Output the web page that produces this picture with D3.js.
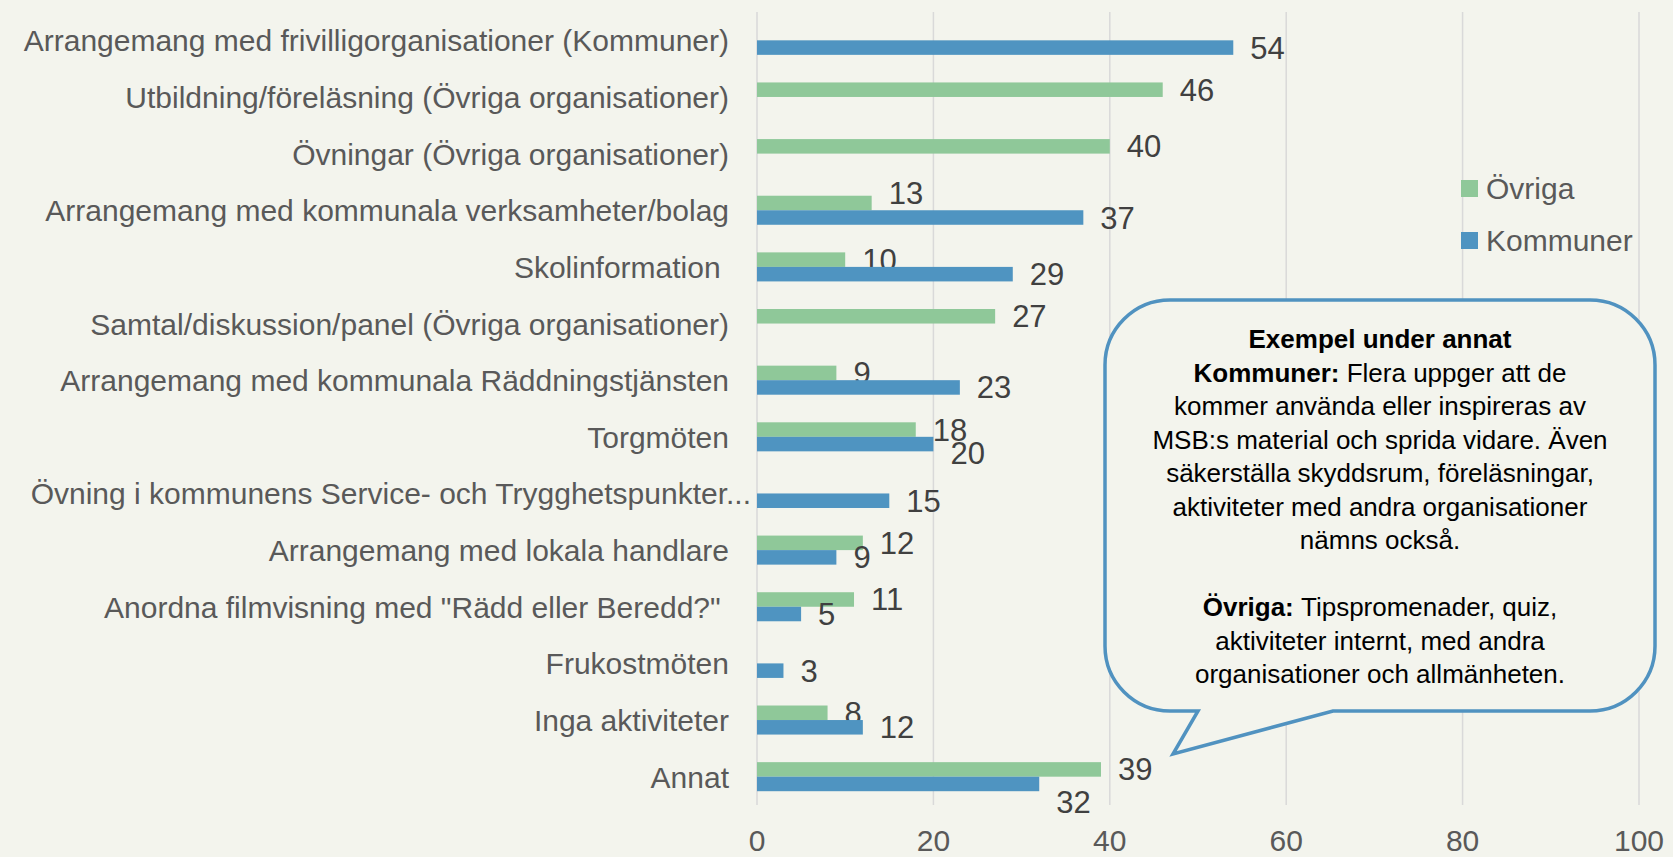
<!DOCTYPE html>
<html lang="sv">
<head>
    <meta charset="UTF-8">
    <title>Aktiviteter</title>
    <script src="https://d3js.org/d3.v7.min.js"></script>
    <style>
        html, body {
            margin: 0;
            padding: 0;
            background: #f3f4ed;
        }
        svg {
            display: block;
            background: #f3f4ed;
            font-family: "Liberation Sans", Arial, sans-serif;
        }
        .grid line {
            stroke: #d9d9d9;
            stroke-width: 1.5;
        }
        text.cat {
            fill: #595959;
            font-size: 30px;
            text-anchor: end;
            white-space: pre;
        }
        text.value {
            fill: #404040;
            font-size: 31px;
        }
        text.tick {
            fill: #595959;
            font-size: 30px;
            text-anchor: middle;
        }
        text.legend {
            fill: #595959;
            font-size: 30px;
        }
        text.note {
            fill: #000;
            font-size: 26px;
            text-anchor: middle;
        }
    </style>
</head>
<body>
<script>
    var width = 1673;
    var height = 857;

    // data
    var categories = [
        "Arrangemang med frivilligorganisationer (Kommuner)",
        "Utbildning/föreläsning (Övriga organisationer)",
        "Övningar (Övriga organisationer)",
        "Arrangemang med kommunala verksamheter/bolag",
        "Skolinformation ",
        "Samtal/diskussion/panel (Övriga organisationer)",
        "Arrangemang med kommunala Räddningstjänsten",
        "Torgmöten",
        "Övning i kommunens Service- och Trygghetspunkter...",
        "Arrangemang med lokala handlare",
        "Anordna filmvisning med \"Rädd eller Beredd?\" ",
        "Frukostmöten",
        "Inga aktiviteter",
        "Annat"
    ];
    var ovriga = [null, 46, 40, 13, 10, 27, 9, 18, null, 12, 11, null, 8, 39];
    var kommuner = [54, null, null, 37, 29, null, 23, 20, 15, 9, 5, 3, 12, 32];
    var seriesNames = ["Övriga", "Kommuner"];
    var xTicks = [0, 20, 40, 60, 80, 100];

    var noteLines = [
        [["Exempel under annat", true]],
        [["Kommuner: ", true], ["Flera uppger att de", false]],
        [["kommer använda eller inspireras av", false]],
        [["MSB:s material och sprida vidare. Även", false]],
        [["säkerställa skyddsrum, föreläsningar,", false]],
        [["aktiviteter med andra organisationer", false]],
        [["nämns också.", false]],
        [],
        [["Övriga: ", true], ["Tipspromenader, quiz,", false]],
        [["aktiviteter internt, med andra", false]],
        [["organisationer och allmänheten.", false]]
    ];

    var colors = {"Övriga": "#8fc899", "Kommuner": "#4f94c1"};

    // manual label nudges (like Excel's moved labels)
    var labelDy = {
        "Arrangemang med kommunala verksamheter/bolag|Övriga": -10,
        "Torgmöten|Kommuner": 9,
        "Annat|Kommuner": 18
    };
    var catDx = {
        "Övning i kommunens Service- och Trygghetspunkter...": 22
    };

    var rows = categories.map(function (c, i) {
        return {
            name: c,
            values: [
                {key: "Övriga", value: ovriga[i]},
                {key: "Kommuner", value: kommuner[i]}
            ]
        };
    });

    var svg = d3.select("body").append("svg")
            .attr("width", width)
            .attr("height", height);

    var xScale = d3.scaleLinear()
            .domain([0, 100])
            .range([757, 1639]);
    var yScale = d3.scaleBand()
            .domain(categories)
            .range([12, 805]);
    var subScale = d3.scaleBand()
            .domain(seriesNames)
            .range([0, yScale.bandwidth()])
            .paddingOuter(0.95);

    // gridlines
    svg.append("g").attr("class", "grid")
            .selectAll("line")
            .data(xTicks)
            .enter().append("line")
            .attr("x1", function (d) { return xScale(d); })
            .attr("x2", function (d) { return xScale(d); })
            .attr("y1", 12)
            .attr("y2", 805);

    svg.append("g")
            .selectAll("text")
            .data(xTicks)
            .enter().append("text")
            .attr("class", "tick")
            .attr("x", function (d) { return xScale(d); })
            .attr("y", 851)
            .text(function (d) { return d; });

    // category labels
    svg.append("g")
            .selectAll("text")
            .data(categories)
            .enter().append("text")
            .attr("class", "cat")
            .attr("x", function (d) { return 729 + (catDx[d] || 0); })
            .attr("y", function (d) { return yScale(d) + yScale.bandwidth() / 2 + 11; })
            .text(function (d) { return d; });

    var groups = svg.selectAll(".row")
            .data(rows)
            .enter().append("g")
            .attr("class", "row")
            .attr("transform", function (d) { return "translate(0," + yScale(d.name) + ")"; });

    var items = groups.selectAll(".item")
            .data(function (d) {
                return d.values.filter(function (v) { return v.value != null; })
                        .map(function (v) { return {cat: d.name, key: v.key, value: v.value}; });
            })
            .enter().append("g")
            .attr("class", "item");

    items.append("rect")
            .attr("x", xScale(0))
            .attr("y", function (d) { return subScale(d.key); })
            .attr("width", function (d) { return xScale(d.value) - xScale(0); })
            .attr("height", subScale.bandwidth())
            .attr("fill", function (d) { return colors[d.key]; });

    items.append("text")
            .attr("class", "value")
            .attr("x", function (d) { return xScale(d.value) + 17; })
            .attr("y", function (d) {
                return subScale(d.key) + subScale.bandwidth() / 2 + 11 + (labelDy[d.cat + "|" + d.key] || 0);
            })
            .text(function (d) { return d.value; });

    // legend
    var legend = svg.append("g")
            .selectAll("g")
            .data(seriesNames)
            .enter().append("g")
            .attr("transform", function (d, i) { return "translate(1461," + (180 + i * 52) + ")"; });
    legend.append("rect")
            .attr("width", 17)
            .attr("height", 17)
            .attr("fill", function (d) { return colors[d]; });
    legend.append("text")
            .attr("class", "legend")
            .attr("x", 25)
            .attr("y", 19)
            .text(function (d) { return d; });

    // callout
    var bx1 = 1105, by1 = 300, bx2 = 1655, by2 = 711, r = 65;
    var p = d3.path();
    p.moveTo(bx1 + r, by1);
    p.lineTo(bx2 - r, by1);
    p.arcTo(bx2, by1, bx2, by1 + r, r);
    p.lineTo(bx2, by2 - r);
    p.arcTo(bx2, by2, bx2 - r, by2, r);
    p.lineTo(1333, by2);
    p.lineTo(1173, 754);
    p.lineTo(1198, by2);
    p.lineTo(bx1 + r, by2);
    p.arcTo(bx1, by2, bx1, by2 - r, r);
    p.lineTo(bx1, by1 + r);
    p.arcTo(bx1, by1, bx1 + r, by1, r);
    p.closePath();

    svg.append("path")
            .attr("d", p.toString())
            .attr("fill", "#f3f4ed")
            .attr("stroke", "#5092c0")
            .attr("stroke-width", 3.5)
            .attr("stroke-linejoin", "miter");

    var note = svg.append("g");
    noteLines.forEach(function (line, i) {
        var t = note.append("text")
                .attr("class", "note")
                .attr("x", 1380)
                .attr("y", 348 + i * 33.5);
        line.forEach(function (part) {
            t.append("tspan")
                    .attr("font-weight", part[1] ? "bold" : "normal")
                    .text(part[0]);
        });
    });
</script>
</body>
</html>
